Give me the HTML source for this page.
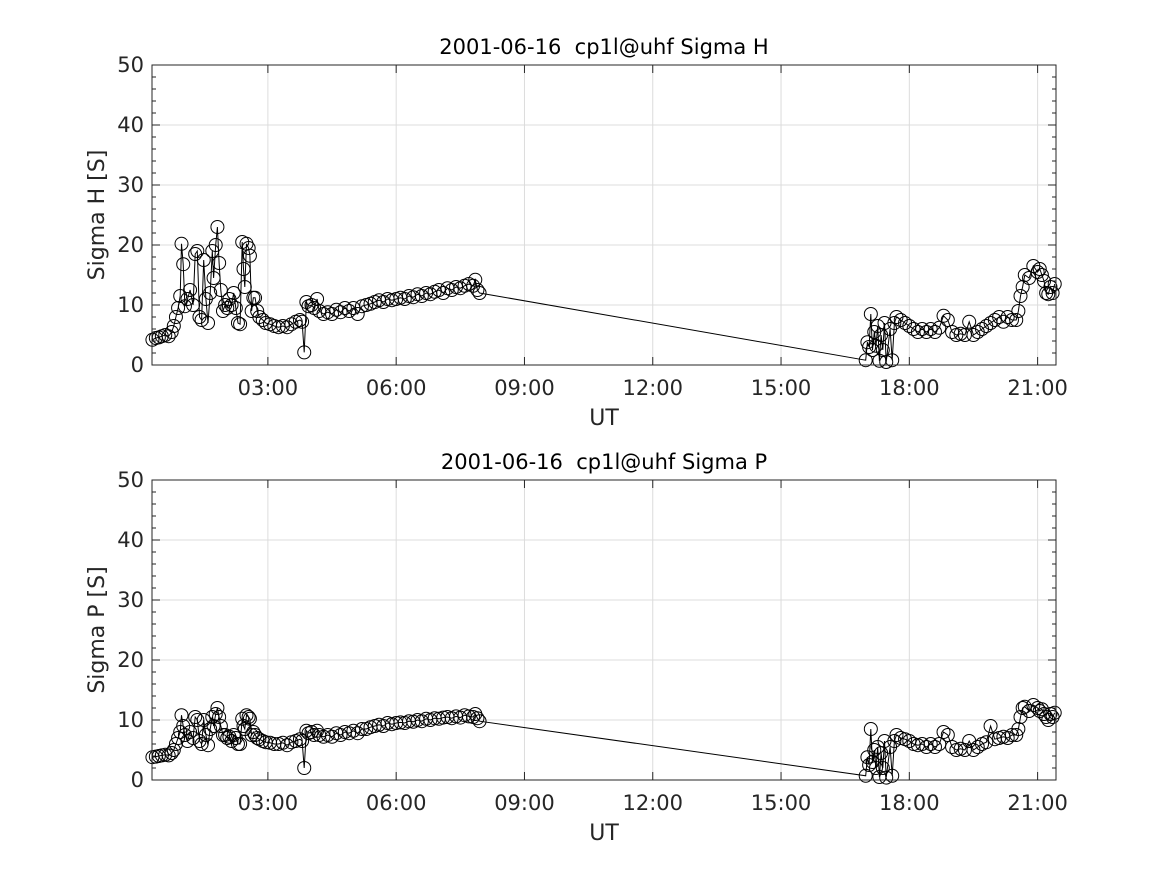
<!DOCTYPE html>
<html><head><meta charset="utf-8">
<style>body{margin:0;background:#fff}svg{display:block;font-family:"DejaVu Sans","Liberation Sans",sans-serif}text{white-space:pre}</style>
</head><body>
<svg id="fig" width="1167" height="875" viewBox="0 0 1167 875"></svg>
<script>
const xTickHours=[3,6,9,12,15,18,21];
const xTickLabels=["03:00","06:00","09:00","12:00","15:00","18:00","21:00"];
const yTicks=[0,10,20,30,40,50];
const hTimes=[0.30,0.38,0.45,0.52,0.6,0.68,0.75,0.8,0.85,0.9,0.95,0.98,1.02,1.06,1.12,1.18,1.25,1.3,1.35,1.4,1.45,1.5,1.55,1.6,1.65,1.7,1.73,1.78,1.82,1.86,1.9,1.95,2.0,2.05,2.1,2.15,2.2,2.25,2.3,2.35,2.4,2.43,2.46,2.5,2.55,2.58,2.62,2.66,2.7,2.75,2.8,2.88,2.95,3.05,3.15,3.25,3.35,3.45,3.55,3.65,3.75,3.8,3.85,3.9,3.95,4.02,4.08,4.15,4.2,4.3,4.4,4.5,4.6,4.7,4.8,4.9,5.0,5.1,5.2,5.3,5.4,5.5,5.6,5.7,5.8,5.9,6.0,6.1,6.2,6.3,6.4,6.5,6.6,6.7,6.8,6.9,7.0,7.1,7.2,7.3,7.4,7.5,7.6,7.7,7.8,7.85,7.9,7.95,16.98,17.02,17.06,17.1,17.14,17.18,17.22,17.26,17.3,17.34,17.38,17.42,17.46,17.55,17.6,17.65,17.7,17.8,17.9,18.0,18.1,18.2,18.3,18.4,18.5,18.6,18.7,18.8,18.9,19.0,19.1,19.2,19.3,19.4,19.5,19.6,19.7,19.8,19.9,20.0,20.1,20.2,20.3,20.4,20.5,20.55,20.6,20.65,20.7,20.8,20.9,21.0,21.05,21.1,21.15,21.2,21.25,21.3,21.35,21.4];
const sigmaH=[4.2,4.5,4.6,4.8,5.0,4.8,5.5,6.5,8,9.5,11.5,20.2,16.8,9.8,11,12.5,10,18.5,19,8,7.5,17.5,11,7,12,19,14.5,20,23,17,12.5,9,10,9.5,11,10,12,9.5,7,6.8,20.5,16,13,20.2,19.5,18.2,9,11.2,11.2,9,8,7.5,7,6.8,6.5,6.3,6.5,6.3,6.8,7.2,7.5,7.2,2.1,10.5,9.8,10,9.5,11,9,8.5,8.8,8.5,9.2,8.8,9.5,9,9.5,8.5,9.8,10,10.2,10.5,10.8,10.5,11,10.8,11,11.2,11,11.5,11.3,11.8,11.5,12,11.8,12.2,12.5,12,12.8,12.5,13,12.8,13.2,13.5,13.2,14.2,12.5,12,0.8,3.8,3,8.5,2.5,5.5,3.2,6.5,0.7,5,2.5,7,0.5,6,0.8,7,8,7.5,7,6.5,6,5.5,6,5.5,6,5.5,6.2,8.2,7.5,5.5,5,5.2,5,7.2,5,5.5,6,6.5,7,7.5,8,7.2,8,7.5,7.5,9,11.5,13,15,14.5,16.5,15.5,16,15,14,12,11.8,13,12,13.5];
const sigmaP=[3.8,3.9,4.0,4.1,4.2,4.1,4.5,5,6,7,8,10.8,9,7.5,6.5,8,7,10.5,10,6.5,6,10,7.5,5.8,8.5,10.5,9,11,12,10.5,9,7.5,7.5,7,7.2,6.5,7.5,7,6,6,10.2,9,8.5,10.8,10.5,10.2,7.5,8,7.5,7,6.8,6.5,6.3,6.2,6,6,6.2,5.8,6.3,6.5,6.8,6.5,2,8.2,7.8,8,7.5,8.2,7.5,7.2,7.5,7.2,7.8,7.5,8,7.8,8.2,7.8,8.5,8.5,8.8,9,9.2,9,9.5,9.3,9.5,9.6,9.5,9.8,9.7,10,9.8,10.2,10,10.3,10.2,10.4,10.5,10.3,10.6,10.4,10.8,10.6,10.5,11,10.3,9.8,0.7,3.8,2.5,8.5,3,5,2,5.5,0.5,4.5,2,6.5,0.4,5.5,0.7,6.5,7.5,7,6.8,6.5,6,5.8,6,5.5,6,5.5,6,8,7.5,5.5,5,5.2,5,6.5,5,5.5,6,6.3,9,6.8,7,7.2,7,7.5,7.5,8.5,10.5,12,12.2,11.5,12.5,12,11.5,11.8,11,10.5,10,11,10.5,11.2];
const svg=document.getElementById('fig');const NS="http://www.w3.org/2000/svg";
function mk(tag,attrs,parent,text){const e=document.createElementNS(NS,tag);for(const k in attrs)e.setAttribute(k,attrs[k]);if(text!==undefined)e.textContent=text;(parent||svg).appendChild(e);return e;}
const X0=152,X1=1056,H0=0.29,H1=21.43;
const xs=h=>X0+(h-H0)/(H1-H0)*(X1-X0);
function panel(top,title,ylab,vals,key){
  const bot=top+300;const ys=v=>bot-v/50*300;
  const g=mk('g',{});
  mk('rect',{x:X0,y:top,width:X1-X0,height:300,fill:'#fff'},g);
  xTickHours.forEach((h,i)=>{const x=xs(h);mk('line',{x1:x,x2:x,y1:top,y2:bot,stroke:'#dcdcdc','stroke-width':1},g);
    mk('line',{x1:x,x2:x,y1:bot,y2:bot-8,stroke:'#262626'},g);mk('line',{x1:x,x2:x,y1:top,y2:top+8,stroke:'#262626'},g);
    const t=mk('text',{x:x,y:bot+30,'text-anchor':'middle','font-size':21,fill:'#262626'},g,xTickLabels[i]);});
  yTicks.forEach(v=>{const y=ys(v);mk('line',{x1:X0,x2:X1,y1:y,y2:y,stroke:'#dcdcdc'},g);
    mk('line',{x1:X0,x2:X0+8,y1:y,y2:y,stroke:'#262626'},g);mk('line',{x1:X1,x2:X1-8,y1:y,y2:y,stroke:'#262626'},g);
    const t=mk('text',{x:X0-8,y:y+7,'text-anchor':'end','font-size':21,fill:'#262626'},g,String(v));});
  for(let v=2;v<50;v+=2){if(v%10==0)continue;const y=ys(v);mk('line',{x1:X0,x2:X0+4,y1:y,y2:y,stroke:'#262626'},g);mk('line',{x1:X1,x2:X1-4,y1:y,y2:y,stroke:'#262626'},g);}
  const pts=hTimes.map((h,i)=>xs(h).toFixed(1)+','+ys(vals[i]).toFixed(1)).join(' ');
  const pl=mk('polyline',{points:pts,fill:'none',stroke:'#000','stroke-width':1},g);
  hTimes.forEach((h,i)=>{const c=mk('circle',{cx:xs(h),cy:ys(vals[i]),r:6.5,fill:'none',stroke:'#000','stroke-width':1},g);});
  mk('rect',{x:X0,y:top,width:X1-X0,height:300,fill:'none',stroke:'#262626','stroke-width':1},g);
  const tt=mk('text',{x:(X0+X1)/2,y:top-11,'text-anchor':'middle','font-size':21,fill:'#000'},g,title);
  const xl=mk('text',{x:(X0+X1)/2,y:bot+60,'text-anchor':'middle','font-size':22,fill:'#262626'},g,'UT');
  const yl=mk('text',{x:0,y:0,'text-anchor':'middle','font-size':22,fill:'#262626',transform:`translate(104,${top+150}) rotate(-90)`},g,ylab);
}
panel(65,'2001-06-16  cp1l@uhf Sigma H','Sigma H [S]',sigmaH,'sigma-h');
panel(480,'2001-06-16  cp1l@uhf Sigma P','Sigma P [S]',sigmaP,'sigma-p');
</script>
</body></html>
